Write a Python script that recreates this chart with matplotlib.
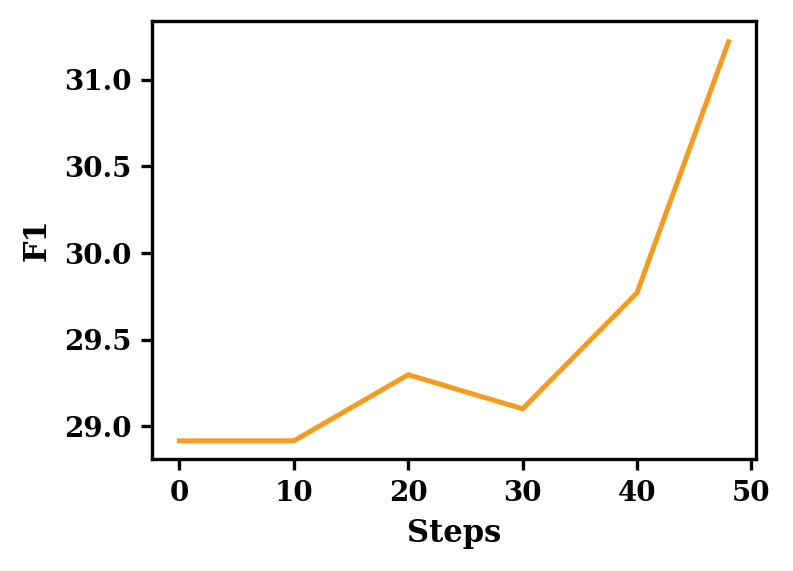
import matplotlib
matplotlib.use("Agg")
import matplotlib.pyplot as plt

steps = [0, 10, 20, 30, 40, 48]
f1 = [28.915, 28.915, 29.297, 29.1, 29.77, 31.22]

plt.rcParams.update({
    "font.family": "DejaVu Serif",
    "font.weight": "bold",
    "font.size": 10,
    "axes.labelweight": "bold",
    "axes.labelsize": 11,
    "axes.linewidth": 1.2,
})

fig, ax = plt.subplots(figsize=(793 / 200, 571 / 200), dpi=200)
fig.subplots_adjust(left=0.1917, right=0.9533, top=0.9632, bottom=0.1961)

ax.plot(steps, f1, color="#F39C1F", linewidth=1.8)
ax.set_xlabel("Steps")
ax.set_ylabel("F1")
ax.set_xticks([0, 10, 20, 30, 40, 50])
ax.set_yticks([29.0, 29.5, 30.0, 30.5, 31.0])
ax.set_xlim(-2.4, 50.4)
ax.set_ylim(28.81, 31.34)
ax.tick_params(width=1.2, length=4)

fig.savefig("out.png", dpi=200)
